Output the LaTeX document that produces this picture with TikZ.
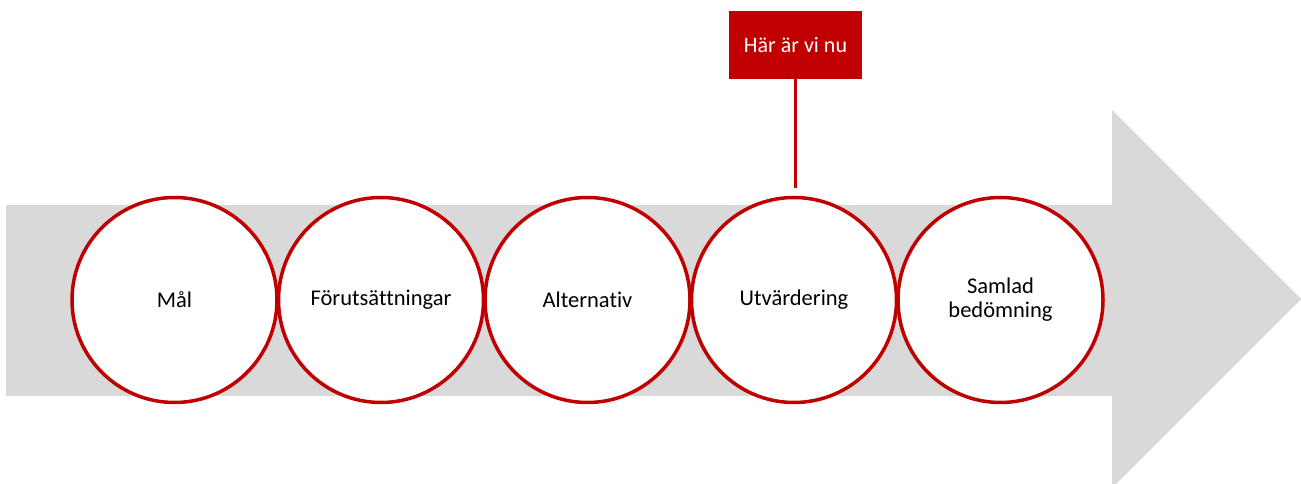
\documentclass[tikz,border=0pt]{standalone}
\usepackage{fontspec}
\setmainfont[Ligatures=CommonOff]{Carlito}
\definecolor{dred}{HTML}{C00000}
\definecolor{lgray}{HTML}{D9D9D9}
\begin{document}
\begin{tikzpicture}[x=1pt,y=1pt,
  stepcircle/.style={circle, draw=dred, line width=3.5pt, fill=white, minimum size=205pt, inner sep=0pt, align=center, font=\fontsize{22.5}{24}\selectfont},
  herebox/.style={rectangle, fill=dred, minimum width=133pt, minimum height=68pt, inner sep=0pt, text=white, font=\fontsize{22}{24}\selectfont}]
\useasboundingbox (0,0) rectangle (1301,484);
\fill[lgray] (6,279) -- (1112,279) -- (1112,374) -- (1301,185) -- (1112,-4) -- (1112,88) -- (6,88) -- cycle;
\node[stepcircle] (c1) at (174.5,184) {Mål};
\node[stepcircle] (c2) at (381,184) {Förutsättningar};
\node[stepcircle] (c3) at (587.5,184) {Alternativ};
\node[stepcircle] (c4) at (794,184) {Utvärdering};
\node[stepcircle] (c5) at (1000.5,184) {Samlad\\bedömning};
\node[herebox] (h) at (795.5,439) {Här är vi nu};
\coordinate (e) at (795.5,296);
\draw[dred, line width=3pt] (h.south) -- (e);
\end{tikzpicture}
\end{document}
